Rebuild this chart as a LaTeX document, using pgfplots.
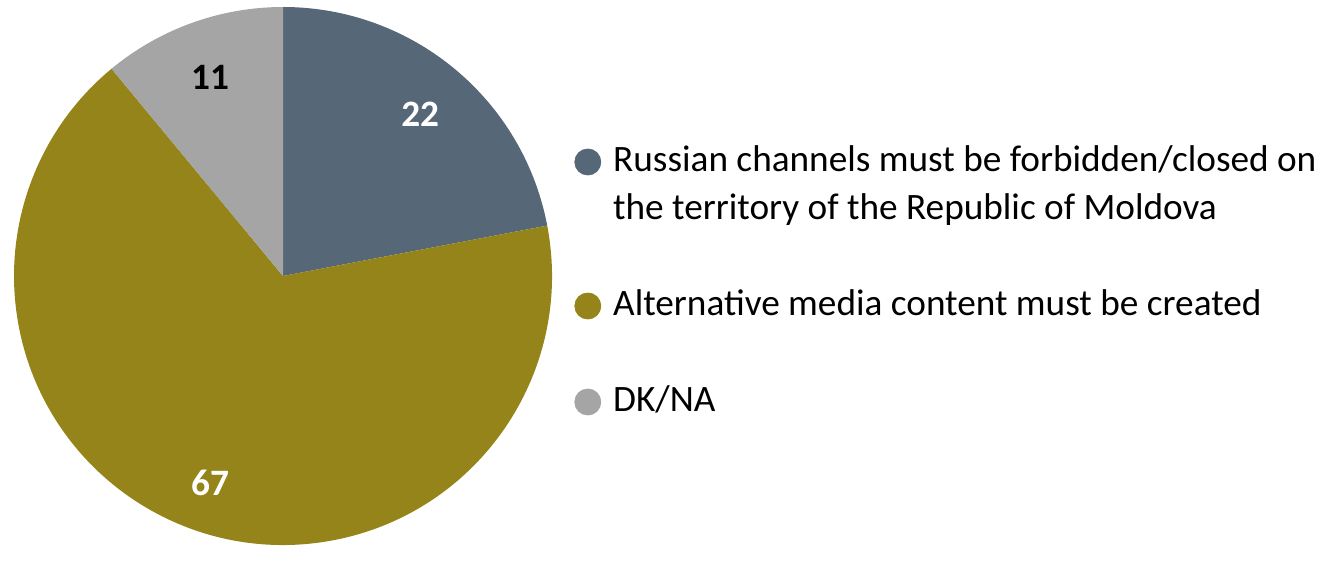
\documentclass[border=0pt]{standalone}
\usepackage{fontspec}
\setmainfont{Carlito}
\usepackage{pgfplots}
\usepackage{pgfplotstable}
\pgfplotsset{compat=1.18}

\definecolor{slate}{HTML}{566778}
\definecolor{olive}{HTML}{948419}
\definecolor{greyc}{HTML}{A5A5A5}

\pgfplotstableread{
value fillc textc
22 slate white
67 olive white
11 greyc black
}\piedata

\begin{document}
\begin{tikzpicture}
\path (-7bp,-0.5bp) rectangle (661bp,272.5bp);
\begin{axis}[
    scale only axis,
    width=269bp, height=269bp,
    xmin=-1, xmax=1, ymin=-1, ymax=1,
    hide axis,
    clip=false,
    legend cell align=left,
    legend style={
        at={(axis cs:1.0818,0.4922)}, anchor=north west,
        draw=none, fill=none, inner sep=0pt,
        row sep=6bp, column sep=6bp,
        font=\fontsize{18.7}{23}\selectfont,
        nodes={text height=14bp, text depth=4bp, inner sep=0pt},
    },
  ]
  \xdef\cum{0}
  \pgfplotsinvokeforeach{0,1,2}{
    \pgfplotstablegetelem{#1}{value}\of\piedata \let\val\pgfplotsretval
    \pgfplotstablegetelem{#1}{fillc}\of\piedata \let\fc\pgfplotsretval
    \pgfplotstablegetelem{#1}{textc}\of\piedata \let\tc\pgfplotsretval
    \pgfmathsetmacro{\angA}{90-3.6*\cum}
    \pgfmathsetmacro{\angB}{90-3.6*(\cum+\val)}
    \pgfmathsetmacro{\angM}{(\angA+\angB)/2}
    \edef\piewedge{%
      \noexpand\fill[\fc] (axis cs:0,0) -- (axis cs:{cos(\angA)},{sin(\angA)})
        arc[start angle=\angA, end angle=\angB, radius=134.5bp] -- cycle;
      \noexpand\node[text=\tc, yshift=-2bp, font=\noexpand\fontsize{18.7}{23}\noexpand\selectfont\noexpand\bfseries]
        at (axis cs:{0.8*cos(\angM)},{0.8*sin(\angM)}) {\val};}
    \piewedge
    \pgfmathparse{\cum+\val}\xdef\cum{\pgfmathresult}
  }
  \addlegendimage{legend image code/.code={\fill[slate] (0bp,0bp) circle[radius=6.5bp];}}
  \addlegendentry{Russian channels must be forbidden/closed on}
  \addlegendimage{empty legend}
  \addlegendentry{the territory of the Republic of Moldova}
  \addlegendimage{empty legend}
  \addlegendentry{\strut}
  \addlegendimage{legend image code/.code={\fill[olive] (0bp,0bp) circle[radius=6.5bp];}}
  \addlegendentry{Alternative media content must be created}
  \addlegendimage{empty legend}
  \addlegendentry{\strut}
  \addlegendimage{legend image code/.code={\fill[greyc] (0bp,0bp) circle[radius=6.5bp];}}
  \addlegendentry{DK/NA}
\end{axis}
\end{tikzpicture}
\end{document}
